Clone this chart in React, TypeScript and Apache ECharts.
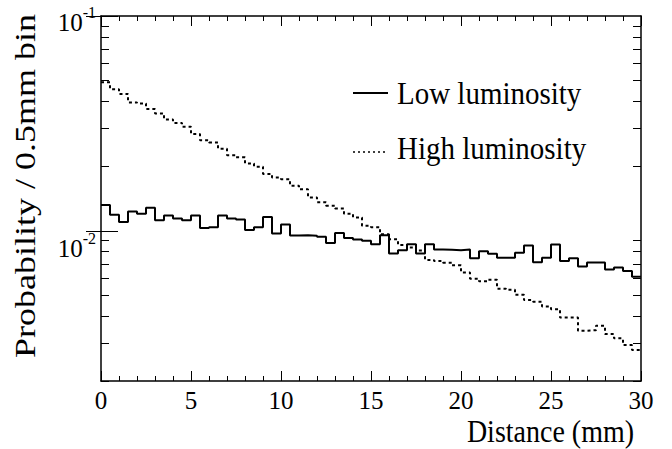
import React, { useEffect, useRef } from 'react';
import * as echarts from 'echarts';

// ---- data ----
const BIN_WIDTH = 0.5; // mm
const X_MIN = 0;
const X_MAX = 30;
const Y_MIN = 0.002;
const Y_MAX = 0.1;

const lowLuminosity = [
  0.0132, 0.01187, 0.0110, 0.0123, 0.0120, 0.0128, 0.0112, 0.0118, 0.0114, 0.0112,
  0.0118, 0.0103, 0.0104, 0.0118, 0.0114, 0.0113, 0.0101, 0.0104, 0.0116, 0.00971,
  0.0107, 0.00951, 0.00953, 0.00948, 0.00938, 0.00877, 0.00976, 0.00925, 0.00911, 0.00899,
  0.00867, 0.00955, 0.00784, 0.00813, 0.00867, 0.00784, 0.00867, 0.00818, 0.00816, 0.00813,
  0.00818, 0.00746, 0.00803, 0.00783, 0.00749, 0.00749, 0.00790, 0.00854, 0.00715, 0.00749,
  0.00864, 0.00723, 0.00745, 0.00682, 0.00712, 0.00712, 0.00661, 0.00675, 0.00650, 0.00611,
];

const highLuminosity = [
  0.0491, 0.0456, 0.0434, 0.0396, 0.0392, 0.0369, 0.0352, 0.0330, 0.0318, 0.0305,
  0.0282, 0.0264, 0.0258, 0.0241, 0.0225, 0.0220, 0.0206, 0.0199, 0.0184, 0.0177,
  0.0174, 0.0162, 0.0156, 0.0143, 0.0136, 0.0131, 0.0127, 0.0120, 0.01155, 0.01055,
  0.0104, 0.00963, 0.00913, 0.00859, 0.00836, 0.00810, 0.00732, 0.00724, 0.00711, 0.00691,
  0.00640, 0.00599, 0.00582, 0.00592, 0.00538, 0.00532, 0.00504, 0.00476, 0.00468, 0.00445,
  0.00432, 0.00395, 0.00395, 0.00343, 0.00345, 0.00362, 0.00331, 0.00316, 0.00294, 0.00279,
];

const xTickInterval = 5;
const yLabelValues = [0.01, 0.1];
const yMinorTickValues = [
  0.002, 0.003, 0.004, 0.005, 0.006, 0.007, 0.008, 0.009,
  0.02, 0.03, 0.04, 0.05, 0.06, 0.07, 0.08, 0.09,
];

const seriesNames = ['Low luminosity', 'High luminosity'];
const xTitle = 'Distance (mm)';
const yTitle = 'Probability / 0.5mm bin';

const FONT = "'Liberation Serif', serif";

// histogram: points at bin lower edges + closing point at the upper edge
function toSteps(values: number[]) {
  const pts = values.map((v, i) => [X_MIN + i * BIN_WIDTH, v]);
  pts.push([X_MIN + values.length * BIN_WIDTH, values[values.length - 1]]);
  return pts;
}

export default function App() {
  const ref = useRef<HTMLDivElement>(null);

  useEffect(() => {
    if (!ref.current) return;
    const chart = echarts.init(ref.current, null, { renderer: 'svg' });

    const logAxisBase = {
      type: 'log' as const,
      logBase: 10,
      min: Y_MIN,
      max: Y_MAX,
      splitLine: { show: false },
      minorTick: { show: false },
      minorSplitLine: { show: false },
    };
    const black = '#000';

    const textStyle = (size: number, align: string) => ({
      fontFamily: FONT,
      fontSize: size,
      fill: black,
      textAlign: align,
      textVerticalAlign: 'middle',
      align,
      verticalAlign: 'middle',
    });

    const option: any = {
      animation: false,
      backgroundColor: '#fff',
      textStyle: { fontFamily: FONT },
      grid: {
        left: 101,
        right: 31,
        top: 16,
        bottom: 68,
        containLabel: false,
        outerBoundsMode: 'none',
      },
      xAxis: [
        {
          type: 'value',
          min: X_MIN,
          max: X_MAX,
          interval: xTickInterval,
          position: 'bottom',
          axisLine: { show: true, onZero: false, lineStyle: { color: black, width: 1.5 } },
          axisTick: { show: true, inside: true, length: 10, lineStyle: { color: black, width: 1 } },
          minorTick: { show: true, splitNumber: 5, length: 5, lineStyle: { color: black, width: 1 } },
          splitLine: { show: false },
          axisLabel: {
            show: true,
            margin: 7,
            color: black,
            fontFamily: FONT,
            fontSize: 25,
          },
        },
        {
          type: 'value',
          min: X_MIN,
          max: X_MAX,
          interval: xTickInterval,
          position: 'top',
          axisLine: { show: true, onZero: false, lineStyle: { color: black, width: 1.5 } },
          axisTick: { show: true, inside: true, length: 10, lineStyle: { color: black, width: 1 } },
          minorTick: { show: true, splitNumber: 5, length: 5, lineStyle: { color: black, width: 1 } },
          splitLine: { show: false },
          axisLabel: { show: false },
        },
      ],
      yAxis: [
        {
          ...logAxisBase,
          position: 'left',
          axisLine: { show: true, onZero: false, lineStyle: { color: black, width: 1.5 } },
          axisTick: {
            show: true,
            inside: true,
            length: 8,
            customValues: yMinorTickValues,
            lineStyle: { color: black, width: 1 },
          },
          axisLabel: {
            show: true,
            margin: 5,
            color: black,
            fontFamily: FONT,
            customValues: yLabelValues,
            formatter: (v: number) => {
              const e = Math.round(Math.log10(v));
              return (e === -1 ? '{g1| }' : '{g2| }') + '\n{b|10}{s|' + e + '}';
            },
            rich: {
              g1: { fontFamily: FONT, fontSize: 4, lineHeight: 7, color: black },
              g2: { fontFamily: FONT, fontSize: 4, lineHeight: 30, color: black },
              b: { fontFamily: FONT, fontSize: 25, lineHeight: 30, color: black, verticalAlign: 'bottom' },
              s: { fontFamily: FONT, fontSize: 16, lineHeight: 16, color: black, verticalAlign: 'top' },
            },
          },
        },
        {
          ...logAxisBase,
          position: 'left',
          axisLine: { show: false },
          axisTick: {
            show: true,
            inside: true,
            length: 17,
            customValues: yLabelValues,
            lineStyle: { color: black, width: 1 },
          },
          axisLabel: { show: false },
        },
        {
          ...logAxisBase,
          position: 'right',
          axisLine: { show: true, onZero: false, lineStyle: { color: black, width: 1.5 } },
          axisTick: {
            show: true,
            inside: true,
            length: 8,
            customValues: yMinorTickValues,
            lineStyle: { color: black, width: 1 },
          },
          axisLabel: { show: false },
        },
        {
          ...logAxisBase,
          position: 'right',
          axisLine: { show: false },
          axisTick: {
            show: true,
            inside: true,
            length: 15,
            customValues: yLabelValues,
            lineStyle: { color: black, width: 1 },
          },
          axisLabel: { show: false },
        },
      ],
      series: [
        {
          name: seriesNames[0],
          type: 'line',
          xAxisIndex: 0,
          yAxisIndex: 0,
          step: 'end',
          symbol: 'none',
          showSymbol: false,
          clip: true,
          lineStyle: { color: black, width: 2, type: 'solid' },
          data: toSteps(lowLuminosity),
          z: 3,
        },
        {
          name: seriesNames[1],
          type: 'line',
          xAxisIndex: 0,
          yAxisIndex: 0,
          step: 'end',
          symbol: 'none',
          showSymbol: false,
          clip: true,
          lineStyle: { color: black, width: 2, type: [3, 3], cap: 'butt' },
          data: toSteps(highLuminosity),
          z: 2,
        },
      ],
      graphic: [
        // y-axis title
        {
          type: 'text',
          x: 25,
          y: 186,
          rotation: Math.PI / 2,
          scaleX: 1.2,
          style: { text: yTitle, ...textStyle(30, 'center') },
        },
        // x-axis title
        {
          type: 'text',
          x: 634,
          y: 432,
          scaleY: 1.1,
          style: { text: xTitle, ...textStyle(28, 'right') },
        },
        // legend
        {
          type: 'line',
          shape: { x1: 353, y1: 93, x2: 388, y2: 93 },
          style: { stroke: black, lineWidth: 2 },
        },
        {
          type: 'text',
          x: 397,
          y: 93,
          scaleY: 1.12,
          style: { text: seriesNames[0], ...textStyle(29, 'left') },
        },
        {
          type: 'line',
          shape: { x1: 353, y1: 152, x2: 388, y2: 152 },
          style: { stroke: black, lineWidth: 1.5, lineDash: [2, 3] },
        },
        {
          type: 'text',
          x: 397,
          y: 148,
          scaleY: 1.12,
          style: { text: seriesNames[1], ...textStyle(29, 'left') },
        },
      ],
    };

    chart.setOption(option);
    return () => {
      chart.dispose();
    };
  }, []);

  return (
    <div
      ref={ref}
      style={{ position: 'fixed', left: 0, top: 0, width: 672, height: 449, background: '#fff' }}
    />
  );
}
